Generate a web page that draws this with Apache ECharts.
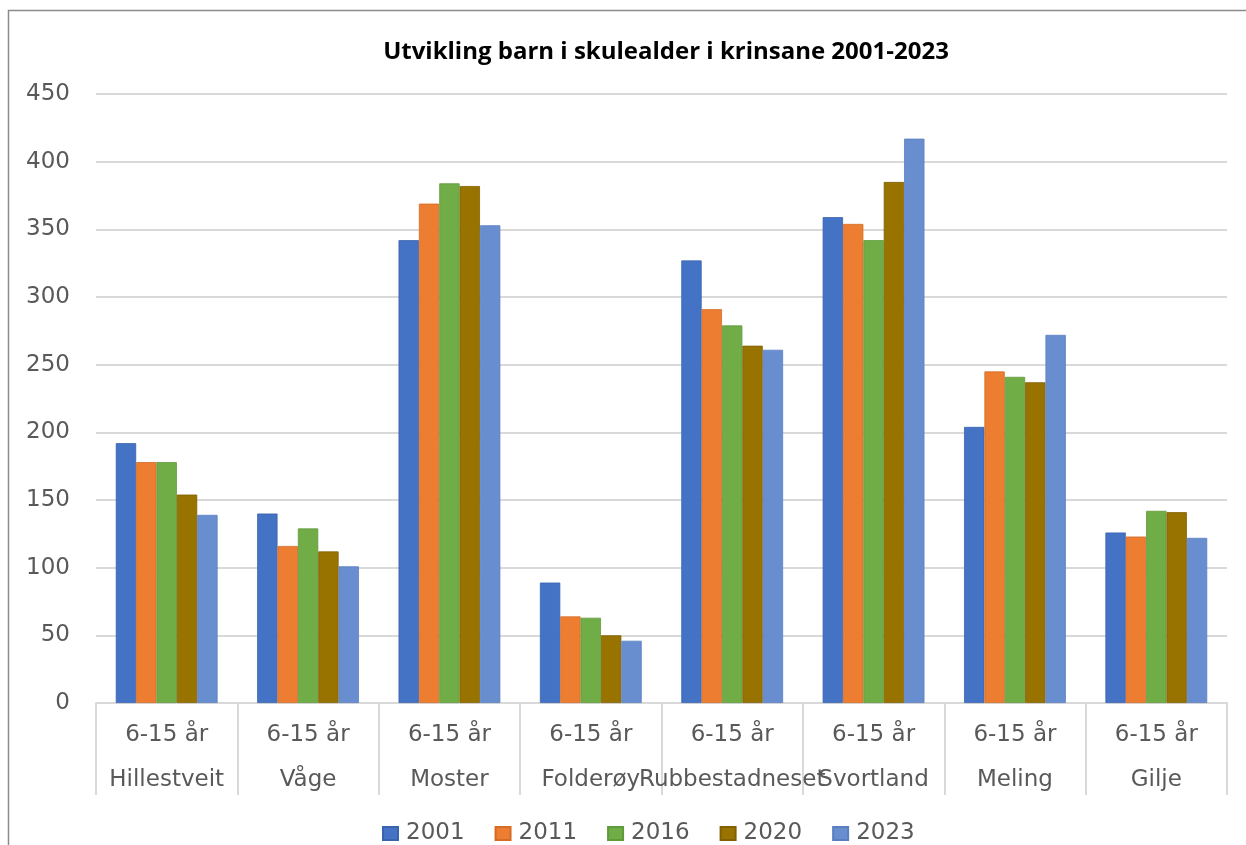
<!DOCTYPE html>
<html>
<head>
<meta charset="utf-8">
<script src="https://cdn.jsdelivr.net/npm/echarts@6/dist/echarts.min.js"></script>
<style>
  html, body { margin: 0; padding: 0; background: #fff; }
  #chart { width: 1246px; height: 845px; }
</style>
</head>
<body>
<div id="chart"></div>
<script>
    // krinsar og årstal
    var krinsar = ['Hillestveit', 'Våge', 'Moster', 'Folderøy', 'Rubbestadneset', 'Svortland', 'Meling', 'Gilje'];
    var alder = '6-15 år';
    var aar = ['2001', '2011', '2016', '2020', '2023'];

    // tal barn per krins, eitt array per år
    var v2001 = [192, 140, 342, 89, 327, 359, 204, 126];
    var v2011 = [178, 116, 369, 64, 291, 354, 245, 123];
    var v2016 = [178, 129, 384, 63, 279, 342, 241, 142];
    var v2020 = [154, 112, 382, 50, 264, 385, 237, 141];
    var v2023 = [139, 101, 353, 46, 261, 417, 272, 122];

    var yTicks = [0, 50, 100, 150, 200, 250, 300, 350, 400, 450];

    var fargar = ['#4472C4', '#ED7D31', '#70AD47', '#997300', '#698ED0'];
    var kantar = ['#3a63ad', '#d46c27', '#5f9a3b', '#806000', '#5a7fc0'];
    var verdiar = [v2001, v2011, v2016, v2020, v2023];

    var chart = echarts.init(document.getElementById('chart'));

    var serieListe = aar.map(function (a, i) {
        return {
            name: a,
            type: 'bar',
            data: verdiar[i],
            barGap: '0%',
            barCategoryGap: '28%',
            itemStyle: { color: fargar[i], borderColor: kantar[i], borderWidth: 0.8 }
        };
    });

    var option = {
        animation: false,
        textStyle: { fontFamily: 'DejaVu Sans' },
        graphic: [{
            type: 'rect',
            shape: { x: 8.5, y: 10.5, width: 1400, height: 1000 },
            style: { fill: 'none', stroke: '#8c8c8c', lineWidth: 1.5 },
            silent: true
        }],
        title: {
            text: 'Utvikling barn i skulealder i krinsane 2001-2023',
            left: 661,
            textAlign: 'center',
            top: 35,
            textStyle: {
                fontFamily: 'Open Sans',
                fontWeight: 'bold',
                fontSize: 24,
                color: '#000'
            }
        },
        legend: {
            data: aar,
            top: 817,
            left: 377,
            icon: 'rect',
            itemWidth: 15,
            itemHeight: 13,
            itemGap: 30,
            textStyle: { fontSize: 23, color: '#595959', fontFamily: 'DejaVu Sans', padding: [0, 0, 0, 3] }
        },
        grid: {
            left: 96,
            right: 19,
            top: 94,
            bottom: 142,
            containLabel: false
        },
        xAxis: {
            type: 'category',
            data: krinsar,
            axisLine: { show: true, lineStyle: { color: '#d9d9d9', width: 2 } },
            axisTick: { show: true, interval: 0, length: 92, lineStyle: { color: '#d9d9d9', width: 2 } },
            axisLabel: {
                interval: 0,
                hideOverlap: false,
                margin: 10,
                formatter: function (v) {
                    return '{a|' + alder + '}\n{b|' + v + '}';
                },
                rich: {
                    a: { fontSize: 23, color: '#595959', lineHeight: 45, fontFamily: 'DejaVu Sans' },
                    b: { fontSize: 23, color: '#595959', lineHeight: 45, fontFamily: 'DejaVu Sans' }
                }
            }
        },
        yAxis: {
            type: 'value',
            min: yTicks[0],
            max: yTicks[yTicks.length - 1],
            interval: 50,
            axisLine: { show: false },
            axisTick: { show: false },
            axisLabel: { fontSize: 23, color: '#595959', margin: 26, fontFamily: 'DejaVu Sans' },
            splitLine: { lineStyle: { color: '#d9d9d9', width: 2 } }
        },
        series: serieListe
    };

    chart.setOption(option);
</script>
</body>
</html>
